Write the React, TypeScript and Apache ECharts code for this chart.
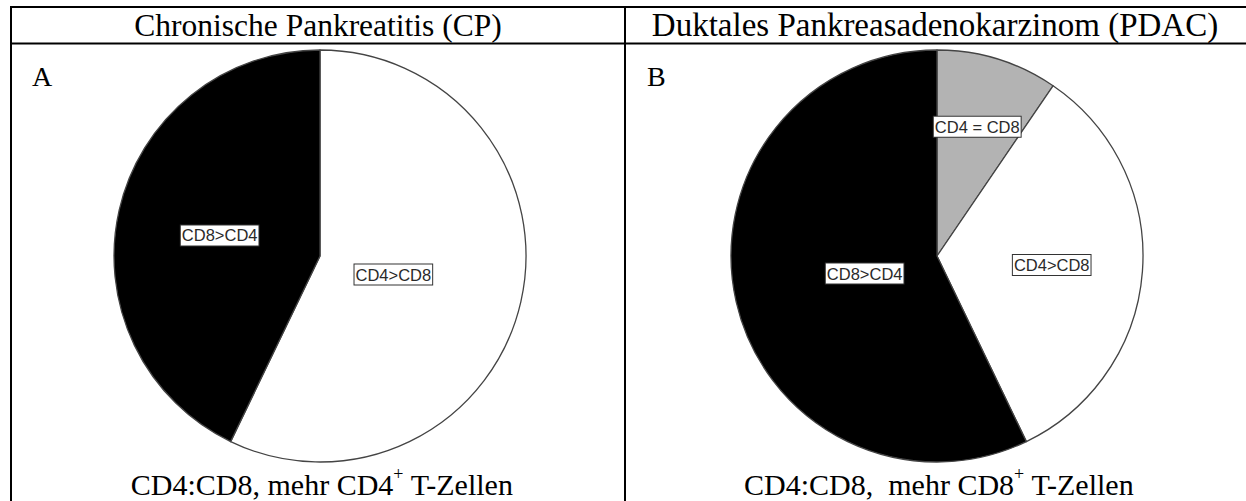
import React, { useEffect, useRef } from "react";
import * as echarts from "echarts";

// ---- data ----
const panelTitles = ["Chronische Pankreatitis (CP)", "Duktales Pankreasadenokarzinom (PDAC)"];
const panelLetters = ["A", "B"];
const captionHeads = ["CD4:CD8, mehr CD4", "CD4:CD8,  mehr CD8"];
const captionSup = "+";
const captionTail = " T-Zellen";

const cpCategories = ["CD4>CD8", "CD8>CD4"];
const cpValues = [12, 9];
const cpColors = ["#ffffff", "#000000"];

const pdacCategories = ["CD4 = CD8", "CD4>CD8", "CD8>CD4"];
const pdacValues = [2, 7, 12];
const pdacColors = ["#b3b3b3", "#ffffff", "#000000"];

// label nudges (style only)
const cpNudge = [
  [-30, -5],
  [3, 3],
];
const pdacNudge = [
  [9, -28],
  [9, 1],
  [31, -6],
];

const W = 1246;
const H = 501;

export default function App() {
  const ref = useRef<HTMLDivElement>(null);

  useEffect(() => {
    if (!ref.current) return;
    const chart = echarts.init(ref.current, undefined, { renderer: "svg", width: W, height: H });

    const labelStyle = {
      show: true,
      position: "inside",
      formatter: "{b}",
      fontFamily: "Liberation Sans",
      fontSize: 16.5,
      color: "#2a2a2a",
      backgroundColor: "#ffffff",
      borderColor: "#333333",
      borderWidth: 1,
      padding: [2, 1, 1, 1],
    };

    const mkData = (cats: string[], vals: number[], cols: string[]) =>
      cats.map((c, i) => ({ name: c, value: vals[i], itemStyle: { color: cols[i] } }));

    const headerX = [318, 935];
    const headerSize = [31.5, 33];
    const captionX = [322, 939];
    const lineColor = "#000";

    const graphics: any[] = [
      // table lines
      { type: "line", shape: { x1: 10, y1: 7, x2: W, y2: 7 }, style: { stroke: lineColor, lineWidth: 2 } },
      { type: "line", shape: { x1: 10, y1: 43.5, x2: W, y2: 43.5 }, style: { stroke: lineColor, lineWidth: 2 } },
      { type: "line", shape: { x1: 11, y1: 6, x2: 11, y2: H }, style: { stroke: lineColor, lineWidth: 2 } },
      { type: "line", shape: { x1: 625, y1: 6, x2: 625, y2: H }, style: { stroke: lineColor, lineWidth: 2 } },
    ];
    panelTitles.forEach((t, i) => {
      graphics.push({
        type: "text",
        x: headerX[i],
        y: 25,
        style: {
          text: t,
          fontFamily: "Liberation Serif",
          fontSize: headerSize[i],
          fill: "#000",
          textAlign: "center",
          textVerticalAlign: "middle",
        },
      });
    });
    const letterX = [32, 647];
    panelLetters.forEach((t, i) => {
      graphics.push({
        type: "text",
        x: letterX[i],
        y: 76,
        style: {
          text: t,
          fontFamily: "Liberation Serif",
          fontSize: 28,
          fill: "#000",
          textAlign: "left",
          textVerticalAlign: "middle",
        },
      });
    });
    captionHeads.forEach((t, i) => {
      graphics.push({
        type: "text",
        x: captionX[i],
        y: 484,
        style: {
          text: `{m|${t}}{s|${captionSup}}{m|${captionTail}}`,
          textAlign: "center",
          textVerticalAlign: "middle",
          rich: {
            m: { fontFamily: "Liberation Serif", fontSize: 30, lineHeight: 38, fill: "#000" },
            s: { fontFamily: "Liberation Serif", fontSize: 18, lineHeight: 8, verticalAlign: "top", fill: "#000" },
          },
        },
      });
    });

    chart.setOption({
      animation: false,
      backgroundColor: "#ffffff",
      series: [
        {
          type: "pie",
          center: [320, 256],
          radius: 206,
          startAngle: 90,
          clockwise: true,
          silent: true,
          avoidLabelOverlap: false,
          label: labelStyle,
          labelLine: { show: false },
          labelLayout: (p: any) => ({ dx: cpNudge[p.dataIndex][0], dy: cpNudge[p.dataIndex][1] }),
          itemStyle: { borderColor: "#444444", borderWidth: 1.3 },
          emphasis: { disabled: true },
          data: mkData(cpCategories, cpValues, cpColors),
        },
        {
          type: "pie",
          center: [937, 256],
          radius: 206,
          startAngle: 90,
          clockwise: true,
          silent: true,
          avoidLabelOverlap: false,
          label: labelStyle,
          labelLine: { show: false },
          labelLayout: (p: any) => ({ dx: pdacNudge[p.dataIndex][0], dy: pdacNudge[p.dataIndex][1] }),
          itemStyle: { borderColor: "#444444", borderWidth: 1.3 },
          emphasis: { disabled: true },
          data: mkData(pdacCategories, pdacValues, pdacColors),
        },
      ],
      graphic: graphics,
    });

    return () => chart.dispose();
  }, []);

  return (
    <div
      ref={ref}
      style={{ position: "fixed", left: 0, top: 0, width: W, height: H, background: "#fff" }}
    />
  );
}
